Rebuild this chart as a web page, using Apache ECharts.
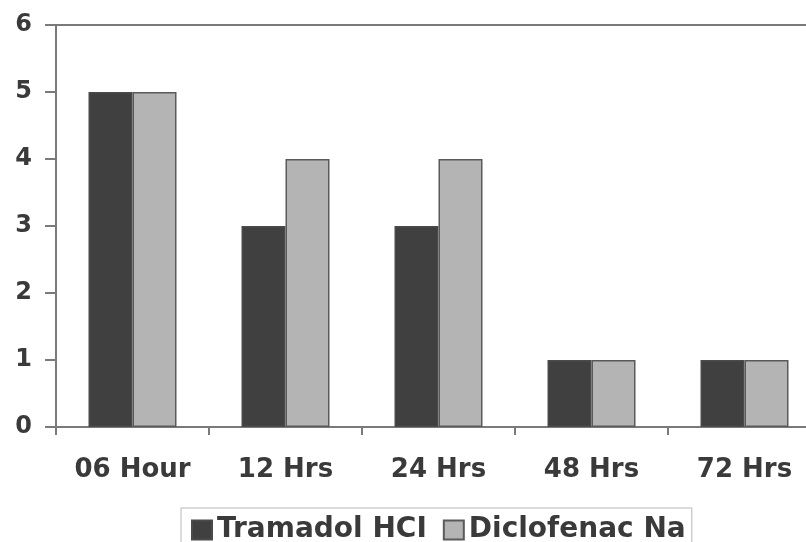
<!DOCTYPE html>
<html>
<head>
<meta charset="utf-8">
<script src="https://cdn.jsdelivr.net/npm/echarts@6/dist/echarts.min.js"></script>
<style>html,body{margin:0;padding:0;background:#fff;overflow:hidden}#c{width:840px;height:542px}</style>
</head>
<body>
<div id="c"></div>
<script>
const categories = ['06 Hour', '12 Hrs', '24 Hrs', '48 Hrs', '72 Hrs'];
const tramadol = [5, 3, 3, 1, 1];
const diclofenac = [5, 4, 4, 1, 1];
const seriesNames = ['Tramadol HCI', 'Diclofenac Na'];

const chart = echarts.init(document.getElementById('c'), null, {renderer: 'canvas'});
const font = 'DejaVu Sans';
chart.setOption({
  animation: false,
  backgroundColor: '#fff',
  grid: {left: 56, top: 25, right: 19, bottom: 115, show: true, borderColor: '#7a7a7a', borderWidth: 2},
  legend: {
    left: 181, top: 508,
    padding: [8, 6, 8, 10],
    borderColor: '#cfcfcf', borderWidth: 1.5,
    itemWidth: 20, itemHeight: 19, itemGap: 16,
    icon: 'rect',
    textStyle: {fontFamily: font, fontWeight: 'bold', fontSize: 28, color: '#3a3a3a'},
    data: seriesNames
  },
  xAxis: {
    type: 'category', data: categories,
    axisLine: {lineStyle: {color: '#7a7a7a', width: 2}},
    axisTick: {show: true, interval: 0, length: 8, alignWithLabel: false, lineStyle: {color: '#7a7a7a', width: 2}},
    axisLabel: {interval: 0, hideOverlap: false, margin: 30, fontFamily: font, fontWeight: 'bold', fontSize: 26, color: '#3a3a3a'}
  },
  yAxis: {
    type: 'value', min: 0, max: 6, interval: 1,
    axisLine: {show: true, lineStyle: {color: '#7a7a7a', width: 2}},
    axisTick: {show: true, length: 11, lineStyle: {color: '#7a7a7a', width: 2}},
    splitLine: {show: false},
    axisLabel: {margin: 24, fontFamily: font, fontWeight: 'bold', fontSize: 24, color: '#3a3a3a'}
  },
  series: [
    {name: seriesNames[0], type: 'bar', data: tramadol, barWidth: 44, barGap: '0%',
     itemStyle: {color: '#404040', borderColor: '#4a4a4a', borderWidth: 1.5}},
    {name: seriesNames[1], type: 'bar', data: diclofenac, barWidth: 44, barGap: '0%',
     itemStyle: {color: '#b4b4b4', borderColor: '#5a5a5a', borderWidth: 1.5}}
  ]
});
</script>
</body>
</html>
